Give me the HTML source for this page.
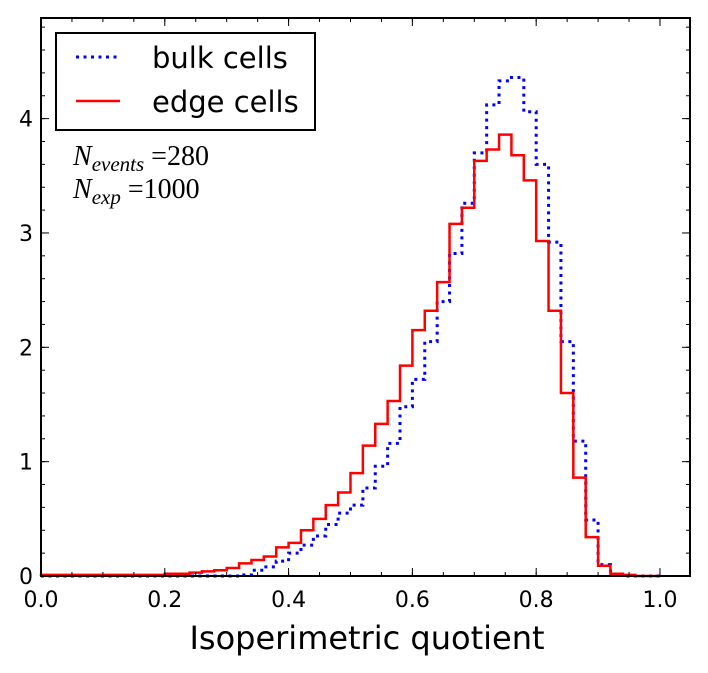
<!DOCTYPE html>
<html><head><meta charset="utf-8"><style>
body{margin:0;background:#fff;}
svg{display:block;font-family:"DejaVu Sans","Liberation Sans",sans-serif;}
</style></head><body>
<svg id="chart" width="708" height="673" xmlns="http://www.w3.org/2000/svg">
<rect width="708" height="673" fill="#fff"/>
<g id="series"></g>
<g id="axes"></g>
<rect x="41" y="18" width="649" height="558" fill="none" stroke="#000" stroke-width="2"/>
<g>
<rect x="56" y="33" width="259" height="97" fill="#fff" stroke="#000" stroke-width="2"/>
<line x1="76" y1="57" x2="120" y2="57" stroke="#00f" stroke-width="3" stroke-dasharray="3,4.5"/>
<text x="152" y="68" font-size="29">bulk cells</text>
<line x1="76" y1="101" x2="120" y2="101" stroke="#f00" stroke-width="2.5"/>
<text x="152" y="112" font-size="29">edge cells</text>
</g>
<text x="73" y="165" font-family="'Liberation Serif',serif" font-size="28"><tspan font-style="italic">N</tspan><tspan font-style="italic" font-size="21" dy="6">events</tspan><tspan dy="-6"> =280</tspan></text>
<text x="73" y="198" font-family="'Liberation Serif',serif" font-size="28"><tspan font-style="italic">N</tspan><tspan font-style="italic" font-size="21" dy="6">exp</tspan><tspan dy="-6"> =1000</tspan></text>
<text x="367" y="649" font-size="32" text-anchor="middle">Isoperimetric quotient</text>
</svg>
<script>
const binWidth = 0.02;
const edgeValues = [0.01,0.01,0.01,0.01,0.01,0.01,0.01,0.01,0.01,0.01,0.02,0.02,0.03,0.04,0.05,0.07,0.11,0.14,0.17,0.25,0.29,0.40,0.50,0.62,0.73,0.90,1.14,1.33,1.53,1.84,2.15,2.32,2.57,3.08,3.22,3.63,3.73,3.86,3.68,3.46,2.93,2.32,1.60,0.86,0.34,0.09,0.02,0.01,0,0];
const bulkValues = [0,0,0,0,0,0,0,0,0,0,0,0,0,0,0,0,0.01,0.05,0.08,0.13,0.20,0.27,0.35,0.45,0.55,0.62,0.77,0.96,1.16,1.48,1.72,2.05,2.40,2.82,3.26,3.70,4.12,4.33,4.36,4.06,3.60,2.92,2.05,1.18,0.49,0.10,0.01,0,0,0];
const xTicks = [0.0,0.2,0.4,0.6,0.8,1.0];
const xTickLabels = ["0.0","0.2","0.4","0.6","0.8","1.0"];
const yTicks = [0,1,2,3,4];
const yTickLabels = ["0","1","2","3","4"];

const X0=41,X1=690,Y0=576,Y1=18,XMAX=1.0485,YMAX=4.88;
const sx=v=>X0+v/XMAX*(X1-X0);
const sy=v=>Y0-v/YMAX*(Y0-Y1);
const NS="http://www.w3.org/2000/svg";
function stepPath(vals){
  let d="M"+sx(0)+","+sy(0);
  vals.forEach((v,i)=>{d+=" L"+sx(i*binWidth)+","+sy(v)+" L"+sx((i+1)*binWidth)+","+sy(v);});
  d+=" L"+sx(vals.length*binWidth)+","+sy(0);
  return d;
}
const series=document.getElementById('series');
const pb=document.createElementNS(NS,'path');


pb.setAttribute('d',stepPath(bulkValues));
pb.setAttribute('fill','none');pb.setAttribute('stroke','#00f');pb.setAttribute('stroke-width','3');pb.setAttribute('stroke-dasharray','3,4.5');
series.appendChild(pb);
const pe=document.createElementNS(NS,'path');


pe.setAttribute('d',stepPath(edgeValues));
pe.setAttribute('fill','none');pe.setAttribute('stroke','#f00');pe.setAttribute('stroke-width','2.5');
series.appendChild(pe);

const axes=document.getElementById('axes');
function line(x1,y1,x2,y2,name){
  const l=document.createElementNS(NS,'line');
  
  
  l.setAttribute('x1',x1);l.setAttribute('y1',y1);l.setAttribute('x2',x2);l.setAttribute('y2',y2);
  l.setAttribute('stroke','#000');l.setAttribute('stroke-width','1');
  axes.appendChild(l);
}
function text(x,y,s,name,anchor){
  const t=document.createElementNS(NS,'text');
  
  
  t.setAttribute('x',x);t.setAttribute('y',y);t.setAttribute('font-size','22');t.setAttribute('text-anchor',anchor);
  t.textContent=s;axes.appendChild(t);
}
for(let v=0;v<=1.04;v+=0.05){const x=sx(v);line(x,Y0,x,Y0-4,'x-minor-tick');line(x,Y1,x,Y1+4,'x-minor-tick');}
xTicks.forEach((v,i)=>{const x=sx(v);line(x,Y0,x,Y0-8,'x-major-tick');line(x,Y1,x,Y1+8,'x-major-tick');text(x,607,xTickLabels[i],'x-tick-label','middle');});
for(let v=0;v<=4.81;v+=0.2){const y=sy(v);line(X0,y,X0+4,y,'y-minor-tick');line(X1,y,X1-4,y,'y-minor-tick');}
yTicks.forEach((v,i)=>{const y=sy(v);line(X0,y,X0+8,y,'y-major-tick');line(X1,y,X1-8,y,'y-major-tick');text(33,y+8,yTickLabels[i],'y-tick-label','end');});
</script>
</body></html>
